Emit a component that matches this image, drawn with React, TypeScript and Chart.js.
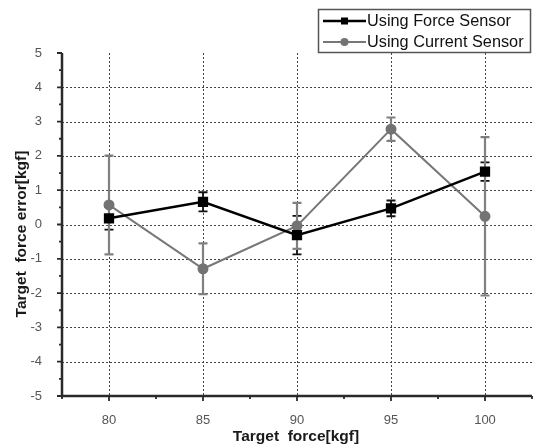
import React, { useEffect, useRef } from "react";
import { Chart, registerables } from "chart.js";

Chart.register(...registerables);

const targetForce = [80, 85, 90, 95, 100];
const forceSensorMean = [0.18, 0.66, -0.31, 0.47, 1.54];
const forceSensorErr = [0.33, 0.28, 0.56, 0.23, 0.27];
const currentSensorMean = [0.57, -1.29, -0.04, 2.78, 0.24];
const currentSensorErr = [1.44, 0.74, 0.67, 0.34, 2.31];

const xMajorTicks = [80, 85, 90, 95, 100];
const xMinorTicks = [77.5, 82.5, 87.5, 92.5, 97.5, 102.5];
const yMajorTicks = [-5, -4, -3, -2, -1, 0, 1, 2, 3, 4, 5];
const yMinorTicks = [-4.5, -3.5, -2.5, -1.5, -0.5, 0.5, 1.5, 2.5, 3.5, 4.5];

const seriesLabels = ["Using Force Sensor", "Using Current Sensor"];
const xTitle = "Target  force[kgf]";
const yTitle = "Target  force error[kgf]";

const FONT = "'Liberation Sans', Arial, sans-serif";

const frame = {
  id: "frame",
  beforeDatasetsDraw(chart: any) {
    const { ctx, chartArea: a, scales } = chart;
    const xs = scales.x;
    const ys = scales.y;
    ctx.save();
    // dotted grid
    ctx.strokeStyle = "#444";
    ctx.lineWidth = 1;
    ctx.setLineDash([2, 2]);
    xMajorTicks.forEach((v) => {
      const px = Math.round(xs.getPixelForValue(v)) + 0.5;
      ctx.beginPath();
      ctx.moveTo(px, a.top);
      ctx.lineTo(px, a.bottom);
      ctx.stroke();
    });
    yMajorTicks.forEach((v) => {
      if (v === 5 || v === -5) return;
      const py = Math.round(ys.getPixelForValue(v)) + 0.5;
      ctx.beginPath();
      ctx.moveTo(a.left, py);
      ctx.lineTo(a.right, py);
      ctx.stroke();
    });
    ctx.setLineDash([]);
    // error bars
    chart.data.datasets.forEach((ds: any, di: number) => {
      const errs = di === 0 ? forceSensorErr : currentSensorErr;
      ctx.strokeStyle = di === 0 ? "#111" : "#808080";
      ctx.lineWidth = di === 0 ? 1.8 : 2.2;
      ds.data.forEach((p: any, i: number) => {
        const px = xs.getPixelForValue(p.x);
        const top = ys.getPixelForValue(p.y + errs[i]);
        const bot = ys.getPixelForValue(p.y - errs[i]);
        ctx.beginPath();
        ctx.moveTo(px, top);
        ctx.lineTo(px, bot);
        ctx.moveTo(px - 4.5, top);
        ctx.lineTo(px + 4.5, top);
        ctx.moveTo(px - 4.5, bot);
        ctx.lineTo(px + 4.5, bot);
        ctx.stroke();
      });
    });
    ctx.restore();
  },
  afterDraw(chart: any) {
    const { ctx, chartArea: a, scales } = chart;
    const xs = scales.x;
    const ys = scales.y;
    ctx.save();
    // axes
    ctx.strokeStyle = "#2a2a2a";
    ctx.lineWidth = 2.5;
    ctx.beginPath();
    ctx.moveTo(a.left, a.top);
    ctx.lineTo(a.left, a.bottom);
    ctx.lineTo(a.right, a.bottom);
    ctx.stroke();
    ctx.lineWidth = 1.8;
    ctx.beginPath();
    xMajorTicks.forEach((v) => {
      const px = xs.getPixelForValue(v);
      ctx.moveTo(px, a.bottom);
      ctx.lineTo(px, a.bottom + 5);
    });
    xMinorTicks.forEach((v) => {
      const px = xs.getPixelForValue(v);
      ctx.moveTo(px, a.bottom);
      ctx.lineTo(px, a.bottom + 3);
    });
    yMajorTicks.forEach((v) => {
      const py = ys.getPixelForValue(v);
      ctx.moveTo(a.left, py);
      ctx.lineTo(a.left - 5, py);
    });
    yMinorTicks.forEach((v) => {
      const py = ys.getPixelForValue(v);
      ctx.moveTo(a.left, py);
      ctx.lineTo(a.left - 3, py);
    });
    ctx.stroke();
    // titles
    ctx.fillStyle = "#1a1a1a";
    ctx.font = `bold 15.5px ${FONT}`;
    ctx.textAlign = "center";
    ctx.textBaseline = "middle";
    ctx.fillText(xTitle, (a.left + a.right) / 2 - 1, 437);
    ctx.save();
    ctx.translate(22, 234);
    ctx.rotate(-Math.PI / 2);
    ctx.fillText(yTitle, 0, 0);
    ctx.restore();
    // legend
    const bx = 318.5, by = 9.5, bw = 212, bh = 43;
    ctx.fillStyle = "#fff";
    ctx.fillRect(bx, by, bw, bh);
    ctx.strokeStyle = "#555";
    ctx.lineWidth = 1.5;
    ctx.strokeRect(bx, by, bw, bh);
    chart.data.datasets.forEach((ds: any, i: number) => {
      const ly = 21 + i * 21;
      ctx.strokeStyle = ds.borderColor;
      ctx.lineWidth = ds.borderWidth;
      ctx.beginPath();
      ctx.moveTo(323, ly);
      ctx.lineTo(366, ly);
      ctx.stroke();
      ctx.fillStyle = ds.pointBackgroundColor;
      if (i === 0) {
        ctx.fillRect(341, ly - 3.5, 7, 7);
      } else {
        ctx.beginPath();
        ctx.arc(344.5, ly, 4, 0, Math.PI * 2);
        ctx.fill();
      }
      ctx.fillStyle = "#111";
      ctx.font = `16.3px ${FONT}`;
      ctx.textAlign = "left";
      ctx.textBaseline = "middle";
      ctx.fillText(seriesLabels[i], 367, ly + 1);
    });
    ctx.restore();
  },
};

export default function App() {
  const ref = useRef<HTMLCanvasElement>(null);
  useEffect(() => {
    if (!ref.current) return;
    const chart = new Chart(ref.current, {
      type: "line",
      data: {
        datasets: [
          {
            label: seriesLabels[0],
            data: targetForce.map((x, i) => ({ x, y: forceSensorMean[i] })),
            borderColor: "#000",
            backgroundColor: "#000",
            pointBackgroundColor: "#000",
            pointBorderColor: "#000",
            borderWidth: 2.5,
            pointStyle: "rect",
            pointRadius: 5.5,
            tension: 0,
          },
          {
            label: seriesLabels[1],
            data: targetForce.map((x, i) => ({ x, y: currentSensorMean[i] })),
            borderColor: "#777",
            backgroundColor: "#737373",
            pointBackgroundColor: "#737373",
            pointBorderColor: "#737373",
            borderWidth: 2,
            pointStyle: "circle",
            pointRadius: 4.5,
            tension: 0,
          },
        ],
      },
      options: {
        animation: false,
        responsive: false,
        layout: { padding: { top: 53, right: 5, left: 0, bottom: 0 } },
        plugins: { legend: { display: false }, tooltip: { enabled: false } },
        scales: {
          x: {
            type: "linear",
            min: 77.5,
            max: 102.5,
            afterBuildTicks: (axis: any) => {
              axis.ticks = xMajorTicks.map((v) => ({ value: v }));
            },
            afterFit: (axis: any) => {
              axis.height = 52;
            },
            grid: { display: false },
            border: { display: false },
            ticks: {
              color: "#555",
              font: { family: FONT, size: 13 },
              padding: 9,
              maxRotation: 0,
            },
          },
          y: {
            type: "linear",
            min: -5,
            max: 5,
            afterBuildTicks: (axis: any) => {
              axis.ticks = yMajorTicks.map((v) => ({ value: v }));
            },
            afterFit: (axis: any) => {
              axis.width = 62;
            },
            grid: { display: false },
            border: { display: false },
            ticks: {
              color: "#555",
              font: { family: FONT, size: 13 },
              padding: 12,
            },
          },
        },
      },
      plugins: [frame],
    });
    return () => chart.destroy();
  }, []);
  return (
    <canvas
      ref={ref}
      width={540}
      height={448}
      style={{ position: "absolute", left: 0, top: 0, width: 540, height: 448 }}
    />
  );
}
